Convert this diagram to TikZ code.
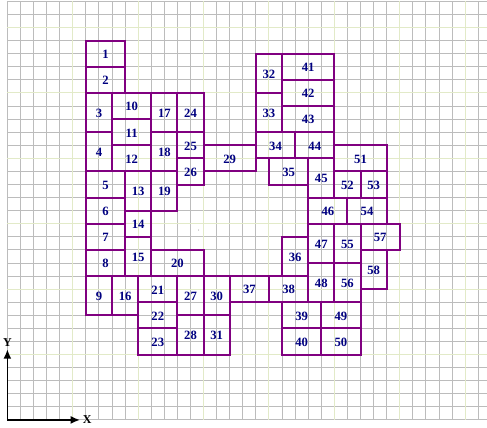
\documentclass[tikz,border=0pt]{standalone}
\usepackage{fontspec}
\setmainfont{Liberation Serif}
\usetikzlibrary{arrows.meta}
\definecolor{gridgray}{RGB}{188,188,188}
\definecolor{gridgreen}{RGB}{226,234,200}
\definecolor{cellpurple}{RGB}{128,0,128}
\definecolor{labelnavy}{RGB}{0,0,128}
\tikzset{
  gridline/.style={draw=gridgray, line width=0.75pt},
  gridmajor/.style={draw=gridgreen, line width=0.75pt},
  cell/.style={draw=cellpurple, line width=1.5pt},
  celltext/.style={
    font=\fontsize{9.5}{10}\selectfont\bfseries, text=labelnavy, inner sep=0pt, yshift=-0.5pt},
  axisline/.style={-{Latex[length=7pt,width=6pt]}, line width=1.2pt, draw=black},
  axistext/.style={font=\fontsize{9}{10}\selectfont\bfseries, inner sep=0pt},
}

\begin{document}
\begin{tikzpicture}[x=9.81pt, y=9.81pt]
  \useasboundingbox (-0.566,-0.612) rectangle (36.67,32.11);
  % grid
  \foreach \i in {0,...,36} \draw[gridline] (\i,0) -- (\i,32);
  \foreach \j in {0,...,32} \draw[gridline] (0,\j) -- (36.67,\j);
  \foreach \i in {5,10,...,35} \draw[gridmajor] (\i,0) -- (\i,32);
  \foreach \j in {5,10,...,30} \draw[gridmajor] (0,\j) -- (36.67,\j);
  % cells
  \foreach \n/\xa/\ya/\xb/\yb in {
    1/6/27/9/29, 2/6/25/9/27, 3/6/22/8/25, 4/6/19/8/22, 5/6/17/9/19,
    6/6/15/9/17, 7/6/13/9/15, 8/6/11/9/13, 9/6/8/8/11, 10/8/23/11/25,
    11/8/21/11/23, 12/8/19/11/21, 13/9/16/11/19, 14/9/14/11/16, 15/9/11/11/14,
    16/8/8/10/11, 17/11/22/13/25, 18/11/19/13/22, 19/11/16/13/19, 20/11/11/15/13,
    21/10/9/13/11, 22/10/7/13/9, 23/10/5/13/7, 24/13/22/15/25, 25/13/20/15/22,
    26/13/18/15/20, 27/13/8/15/11, 28/13/5/15/8, 29/15/19/19/21, 30/15/8/17/11,
    31/15/5/17/8, 32/19/25/21/28, 33/19/22/21/25, 34/19/20/22/22, 35/20/18/23/20,
    36/21/11/23/14, 37/17/9/20/11, 38/20/9/23/11, 39/21/7/24/9, 40/21/5/24/7,
    41/21/26/25/28, 42/21/24/25/26, 43/21/22/25/24, 44/22/20/25/22, 45/23/17/25/20,
    46/23/15/26/17, 47/23/12/25/15, 48/23/9/25/12, 49/24/7/27/9, 50/24/5/27/7,
    51/25/19/29/21, 52/25/17/27/19, 53/27/17/29/19, 54/26/15/29/17, 55/25/12/27/15,
    56/25/9/27/12, 57/27/13/30/15, 58/27/10/29/13}
    \draw[cell] (\xa,\ya) rectangle node[celltext] (c\n) {\n} (\xb,\yb);
  % stray dot
  \fill[gray] (14.62,14.52) circle (0.4pt);
  % axes
  \coordinate (origin) at (0,0);
  \coordinate (xend) at (5.55,0);
  \coordinate (yend) at (0,5.4);
  \node[axistext] (xlabel) at (6.1,0.05) {X};
  \node[axistext] (ylabel) at (0,5.88) {Y};
  \draw[axisline] (origin) -- (xend);
  \draw[axisline] (origin) -- (yend);
\end{tikzpicture}
\end{document}
